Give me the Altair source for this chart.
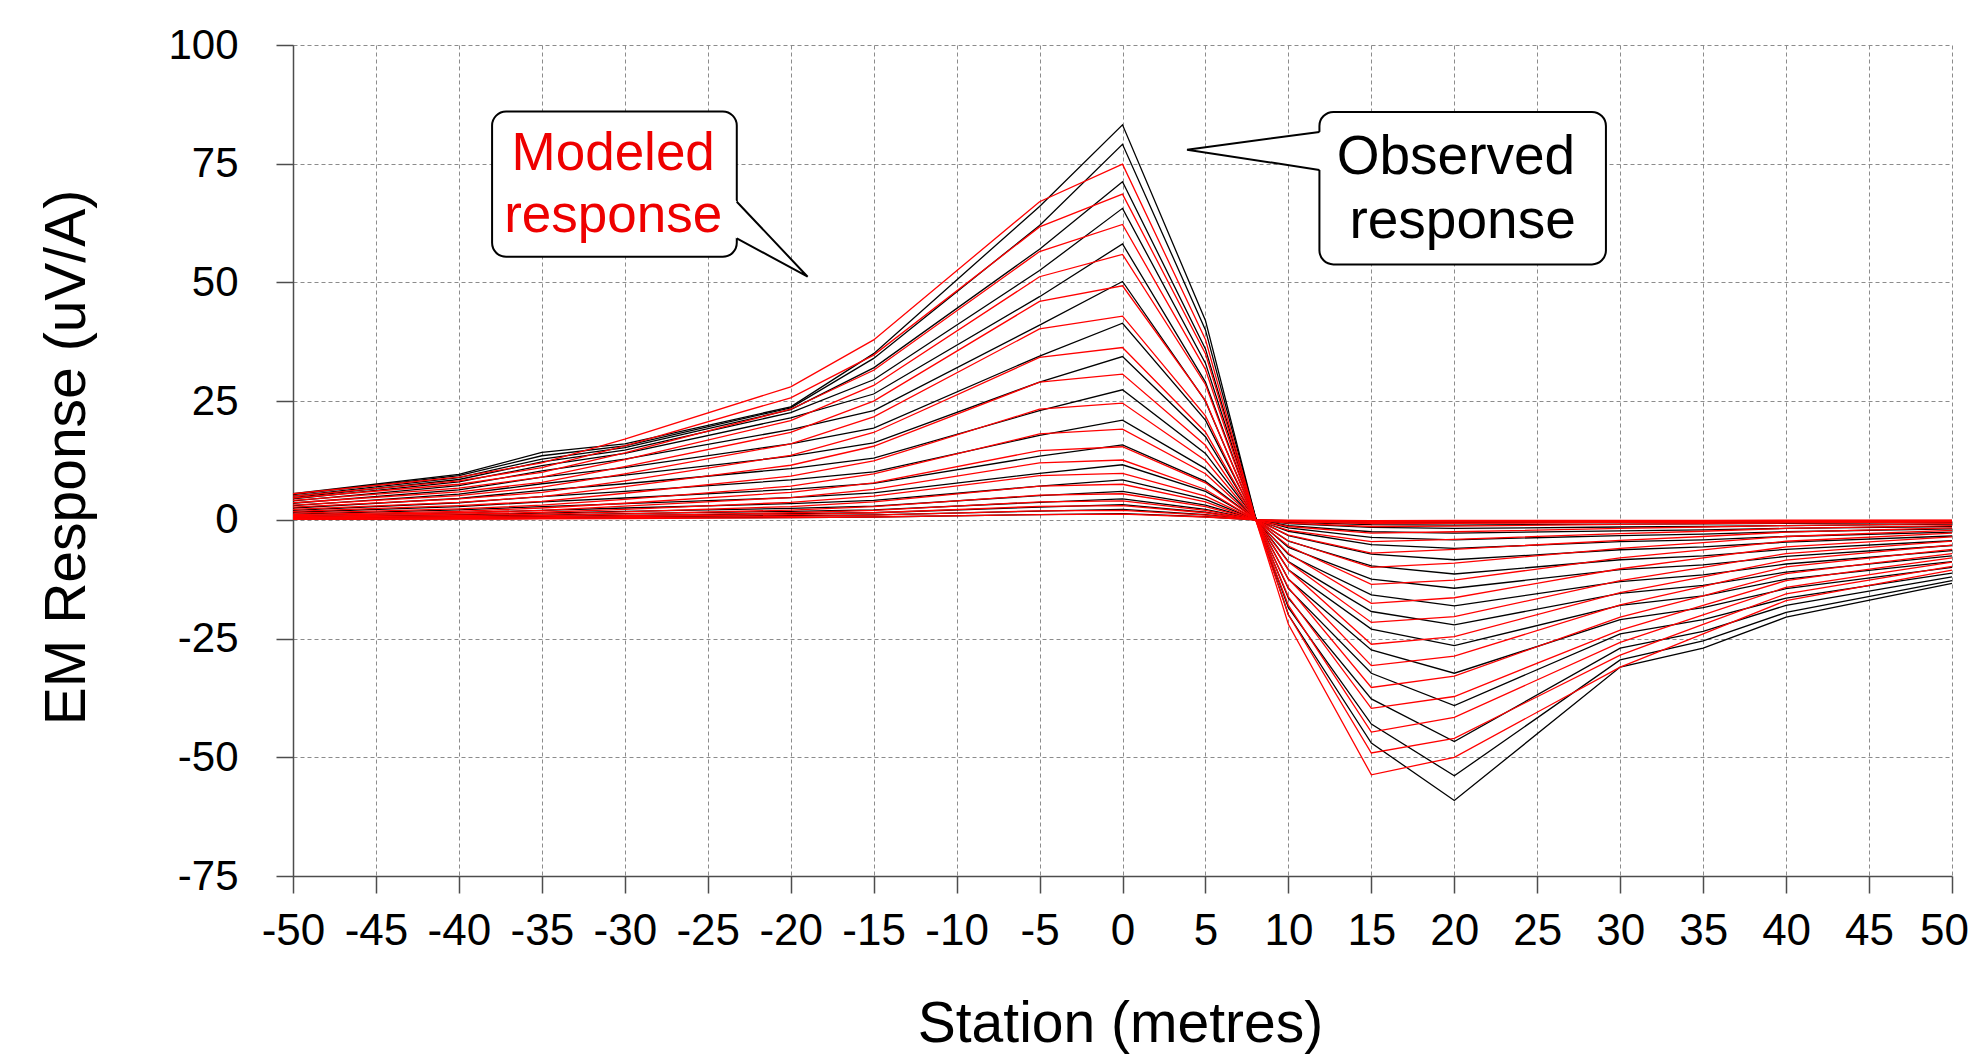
import altair as alt
import pandas as pd

# Station positions (metres)
STATIONS = [-50, -40, -35, -30, -20, -15, -5, 0, 5, 8, 10, 15, 20, 30, 35, 40, 50]

# Observed response curves (uV/A), one list per channel
OBS_01 = [5.5, 9.6, 14.2, 16.0, 23.8, 35.0, 66.0, 83.2, 42.0, 0.8, -20.0, -47.0, -59.1, -31.0, -27.0, -20.5, -13.4]
OBS_02 = [5.3, 9.3, 13.5, 15.6, 23.6, 34.0, 62.0, 79.1, 40.0, 0.7, -18.5, -43.0, -53.9, -29.5, -25.5, -19.5, -12.8]
OBS_03 = [5.0, 8.9, 12.8, 15.2, 23.2, 32.0, 57.0, 71.2, 36.0, 0.6, -16.5, -37.7, -46.7, -27.0, -23.5, -18.0, -12.0]
OBS_04 = [4.7, 8.5, 12.2, 14.7, 22.6, 29.5, 52.5, 65.6, 33.0, 0.5, -14.5, -32.3, -39.1, -24.0, -21.0, -16.5, -11.2]
OBS_05 = [4.4, 8.0, 11.4, 14.0, 21.5, 26.5, 47.0, 58.1, 29.0, 0.5, -12.5, -27.4, -32.3, -21.0, -18.5, -14.5, -10.0]
OBS_06 = [4.0, 7.2, 10.3, 12.8, 19.0, 23.0, 41.0, 50.2, 25.0, 0.4, -10.5, -23.0, -26.5, -18.0, -16.0, -12.5, -8.8]
OBS_07 = [3.5, 6.3, 9.0, 11.0, 16.0, 19.3, 34.5, 41.4, 21.0, 0.4, -8.8, -19.3, -22.1, -15.5, -13.8, -11.0, -7.6]
OBS_08 = [3.0, 5.4, 7.6, 9.4, 13.4, 16.2, 29.0, 34.4, 17.5, 0.3, -7.3, -15.8, -18.1, -13.0, -11.6, -9.3, -6.5]
OBS_09 = [2.5, 4.5, 6.2, 7.6, 10.8, 13.0, 23.0, 27.4, 14.0, 0.3, -5.8, -12.5, -14.4, -10.5, -9.5, -7.7, -5.4]
OBS_10 = [2.0, 3.6, 4.9, 6.0, 8.4, 10.1, 17.8, 21.0, 10.8, 0.2, -4.5, -9.7, -11.4, -8.4, -7.6, -6.2, -4.4]
OBS_11 = [1.6, 2.8, 3.8, 4.6, 6.4, 7.7, 13.4, 15.8, 8.1, 0.2, -3.3, -7.2, -8.4, -6.3, -5.7, -4.7, -3.4]
OBS_12 = [1.2, 2.1, 2.8, 3.4, 4.7, 5.7, 9.8, 11.6, 6.0, 0.1, -2.4, -5.2, -6.0, -4.6, -4.2, -3.5, -2.6]
OBS_13 = [0.9, 1.5, 2.0, 2.5, 3.4, 4.1, 7.1, 8.4, 4.3, 0.1, -1.7, -3.7, -4.2, -3.3, -3.0, -2.5, -1.9]
OBS_14 = [0.6, 1.1, 1.4, 1.8, 2.4, 2.9, 5.1, 6.0, 3.1, 0.1, -1.2, -2.5, -2.8, -2.3, -2.1, -1.8, -1.4]
OBS_15 = [0.45, 0.8, 1.0, 1.3, 1.8, 2.1, 3.7, 4.4, 2.2, 0.05, -0.8, -1.6, -1.8, -1.5, -1.4, -1.2, -0.9]
OBS_16 = [0.3, 0.6, 0.75, 0.95, 1.3, 1.5, 2.7, 3.2, 1.6, 0.0, -0.5, -1.0, -1.1, -0.9, -0.85, -0.75, -0.6]
OBS_17 = [0.2, 0.4, 0.5, 0.65, 0.9, 1.05, 1.85, 2.2, 1.1, 0.0, -0.3, -0.55, -0.6, -0.5, -0.5, -0.45, -0.35]
OBS_18 = [0.1, 0.2, 0.3, 0.4, 0.5, 0.6, 1.1, 1.3, 0.65, 0.0, -0.15, -0.25, -0.3, -0.25, -0.25, -0.2, -0.15]

# Modeled response curves (uV/A)
MOD_01 = [5.5, 9.0, 12.0, 17.0, 28.0, 37.9, 67.0, 74.9, 38.0, 0.4, -22.0, -53.7, -50.0, -31.0, -24.0, -17.0, -10.6]
MOD_02 = [5.0, 8.2, 11.0, 15.6, 25.7, 34.7, 61.7, 68.6, 35.0, 0.35, -20.0, -49.1, -46.0, -28.5, -22.0, -15.6, -9.8]
MOD_03 = [4.6, 7.5, 10.0, 14.1, 23.3, 31.5, 56.5, 62.2, 31.7, 0.3, -18.0, -44.7, -41.6, -25.8, -20.0, -14.2, -8.9]
MOD_04 = [4.1, 6.7, 9.0, 12.7, 20.9, 28.3, 51.2, 55.9, 28.5, 0.3, -16.2, -39.7, -37.2, -23.2, -18.0, -12.8, -8.0]
MOD_05 = [3.6, 5.9, 7.9, 11.2, 18.4, 25.0, 46.0, 49.3, 25.1, 0.25, -14.3, -35.3, -32.9, -20.5, -16.0, -11.3, -7.1]
MOD_06 = [3.1, 5.1, 6.9, 9.7, 16.0, 21.7, 40.2, 42.9, 21.9, 0.2, -12.4, -30.7, -28.7, -17.9, -14.0, -9.9, -6.2]
MOD_07 = [2.7, 4.4, 5.8, 8.2, 13.6, 18.4, 34.2, 36.3, 18.5, 0.2, -10.5, -26.2, -24.6, -15.3, -12.0, -8.5, -5.3]
MOD_08 = [2.2, 3.7, 4.9, 7.0, 11.5, 15.5, 29.0, 30.7, 15.7, 0.15, -8.9, -21.6, -20.4, -12.8, -10.0, -7.1, -4.5]
MOD_09 = [1.8, 3.0, 3.9, 5.6, 9.2, 12.4, 23.3, 24.6, 12.5, 0.1, -7.1, -17.6, -16.4, -10.3, -8.0, -5.7, -3.6]
MOD_10 = [1.4, 2.3, 3.1, 4.3, 7.1, 9.7, 18.1, 19.1, 9.7, 0.1, -5.5, -13.6, -12.7, -8.0, -6.3, -4.5, -2.8]
MOD_11 = [1.1, 1.8, 2.5, 3.5, 5.8, 7.8, 14.6, 15.4, 7.8, 0.1, -4.4, -10.0, -9.1, -6.0, -4.8, -3.5, -2.2]
MOD_12 = [0.9, 1.5, 2.0, 2.9, 4.7, 6.4, 12.0, 12.6, 6.4, 0.05, -3.2, -7.0, -6.2, -4.3, -3.5, -2.6, -1.7]
MOD_13 = [0.7, 1.2, 1.6, 2.2, 3.7, 5.0, 9.3, 9.8, 5.0, 0.05, -2.2, -4.6, -4.1, -2.9, -2.4, -1.8, -1.2]
MOD_14 = [0.55, 0.9, 1.2, 1.7, 2.8, 3.8, 7.1, 7.5, 3.8, 0.0, -1.4, -2.8, -2.5, -1.8, -1.5, -1.2, -0.8]
MOD_15 = [0.4, 0.66, 0.88, 1.25, 2.05, 2.8, 5.2, 5.5, 2.8, 0.0, -0.7, -1.4, -1.3, -0.95, -0.8, -0.65, -0.45]
MOD_16 = [0.3, 0.48, 0.64, 0.9, 1.5, 2.0, 3.8, 4.0, 2.0, 0.0, -0.4, -0.8, -0.75, -0.55, -0.5, -0.4, -0.3]
MOD_17 = [0.22, 0.36, 0.48, 0.68, 1.1, 1.5, 2.85, 3.0, 1.5, 0.0, -0.25, -0.5, -0.45, -0.35, -0.3, -0.25, -0.2]
MOD_18 = [0.15, 0.24, 0.32, 0.45, 0.75, 1.0, 1.9, 2.0, 1.0, 0.0, -0.15, -0.3, -0.28, -0.2, -0.18, -0.15, -0.12]
MOD_19 = [0.09, 0.14, 0.19, 0.27, 0.45, 0.6, 1.1, 1.2, 0.6, 0.0, -0.08, -0.15, -0.14, -0.1, -0.09, -0.08, -0.06]

OBSERVED = [OBS_01, OBS_02, OBS_03, OBS_04, OBS_05, OBS_06, OBS_07, OBS_08, OBS_09,
            OBS_10, OBS_11, OBS_12, OBS_13, OBS_14, OBS_15, OBS_16, OBS_17, OBS_18]
MODELED = [MOD_01, MOD_02, MOD_03, MOD_04, MOD_05, MOD_06, MOD_07, MOD_08, MOD_09, MOD_10,
           MOD_11, MOD_12, MOD_13, MOD_14, MOD_15, MOD_16, MOD_17, MOD_18, MOD_19]

# Tick values
X_TICKS = list(range(-50, 51, 5))
Y_TICKS = [-75, -50, -25, 0, 25, 50, 75, 100]

# Callout annotations (in data units: station, response)
BOX_X = [-38.0, 11.87]
BOX_X2 = [-23.25, 29.14]
BOX_Y = [55.4, 53.8]
BOX_Y2 = [86.0, 85.9]

MOD_PTR_X = [-23.25, -18.98, -23.25]
MOD_PTR_Y = [67.0, 51.2, 59.3]
OBS_PTR_X = [11.87, 3.89, 11.87]
OBS_PTR_Y = [81.7, 77.95, 73.7]

# white fill of the pointers (base slightly inside the box to hide box border)
MOD_FILL_X = [-23.6, -18.98]
MOD_FILL_Y = [68.3, 51.2]
MOD_FILL_Y2 = [59.96, 51.2]
OBS_FILL_X = [3.89, 12.2]
OBS_FILL_Y = [77.95, 81.86]
OBS_FILL_Y2 = [77.95, 73.52]

MOD_TEXT = ["Modeled", "response"]
MOD_TEXT_X = [-30.7, -30.7]
MOD_TEXT_Y = [73.7, 60.7]
OBS_TEXT = ["Observed", "response"]
OBS_TEXT_X = [20.1, 20.5]
OBS_TEXT_Y = [72.9, 59.4]

FONT = "Liberation Sans"


def curves_df(curves, prefix):
    rows = []
    for i, c in enumerate(curves):
        for s, v in zip(STATIONS, c):
            rows.append({"station": s, "value": v, "curve": f"{prefix}{i:02d}"})
    return pd.DataFrame(rows)


obs_df = curves_df(OBSERVED, "obs")
mod_df = curves_df(MODELED, "mod")

xs = alt.Scale(domain=[-50, 50], nice=False, zero=False)
ys = alt.Scale(domain=[-75, 100], nice=False, zero=False)

x_axis = alt.Axis(
    values=X_TICKS, title="Station (metres)",
    labelExpr="'' + datum.value",
    labelFontSize=44, labelPadding=16, titleFontSize=57,
    labelOffset={"condition": {"test": "datum.value == 50", "value": -8}, "value": 0},
    titleX=827, titleY=165, titleAlign="center", titleBaseline="alphabetic",
)
y_axis = alt.Axis(
    values=Y_TICKS, title="EM Response (uV/A)",
    labelExpr="'' + datum.value",
    labelFontSize=42, labelPadding=38, titleFontSize=57,
    titleX=-209, titleY=412, titleAngle=270, titleAlign="center",
    titleBaseline="alphabetic",
)


def X(field):
    return alt.X(f"{field}:Q", scale=xs, axis=x_axis)


def Y(field):
    return alt.Y(f"{field}:Q", scale=ys, axis=y_axis)


obs_lines = alt.Chart(obs_df).mark_line(color="#000000", strokeWidth=1.3).encode(
    x=X("station"), y=Y("value"), detail="curve:N"
)
mod_lines = alt.Chart(mod_df).mark_line(color="#ff0000", strokeWidth=1.3).encode(
    x=X("station"), y=Y("value"), detail="curve:N"
)

box_df = pd.DataFrame({"station": BOX_X, "x2": BOX_X2, "value": BOX_Y, "y2": BOX_Y2})
boxes = alt.Chart(box_df).mark_rect(
    fill="white", stroke="black", strokeWidth=2, cornerRadius=14
).encode(x=X("station"), x2="x2:Q", y=Y("value"), y2="y2:Q")

mod_fill = alt.Chart(pd.DataFrame({"station": MOD_FILL_X, "value": MOD_FILL_Y, "y2": MOD_FILL_Y2})).mark_area(
    color="white", opacity=1
).encode(x=X("station"), y=Y("value"), y2="y2:Q")
obs_fill = alt.Chart(pd.DataFrame({"station": OBS_FILL_X, "value": OBS_FILL_Y, "y2": OBS_FILL_Y2})).mark_area(
    color="white", opacity=1
).encode(x=X("station"), y=Y("value"), y2="y2:Q")

mod_ptr = alt.Chart(pd.DataFrame({"station": MOD_PTR_X, "value": MOD_PTR_Y, "k": [0, 1, 2]})).mark_line(
    color="black", strokeWidth=2, strokeJoin="miter"
).encode(x=X("station"), y=Y("value"), order="k:Q")
obs_ptr = alt.Chart(pd.DataFrame({"station": OBS_PTR_X, "value": OBS_PTR_Y, "k": [0, 1, 2]})).mark_line(
    color="black", strokeWidth=2, strokeJoin="miter"
).encode(x=X("station"), y=Y("value"), order="k:Q")

mod_text = alt.Chart(pd.DataFrame({"station": MOD_TEXT_X, "value": MOD_TEXT_Y, "t": MOD_TEXT})).mark_text(
    font=FONT, fontSize=53, color="#ee0000", align="center", baseline="alphabetic"
).encode(x=X("station"), y=Y("value"), text="t:N")
obs_text = alt.Chart(pd.DataFrame({"station": OBS_TEXT_X, "value": OBS_TEXT_Y, "t": OBS_TEXT})).mark_text(
    font=FONT, fontSize=55, color="black", align="center", baseline="alphabetic"
).encode(x=X("station"), y=Y("value"), text="t:N")

chart = alt.layer(
    obs_lines, mod_lines, boxes, mod_fill, obs_fill, mod_ptr, obs_ptr, mod_text, obs_text
).properties(
    width=1659, height=831,
    padding={"left": 285, "top": 37, "right": 16, "bottom": 180},
    autosize=alt.AutoSizeParams(type="none"),
    background="white",
).configure_axis(
    grid=True, gridColor="#8c8c8c", gridDash=[4, 3], gridWidth=1,
    domainColor="#4d4d4d", domainWidth=1.5, tickColor="#4d4d4d", tickWidth=1.5,
    tickSize=17, labelFont=FONT, titleFont=FONT, labelColor="black",
    titleColor="black", titleFontWeight="normal", labelFlush=False,
    labelOverlap=False,
).configure_view(stroke=None)

chart.save("out.html", embed_options={"renderer": "svg", "actions": False})
